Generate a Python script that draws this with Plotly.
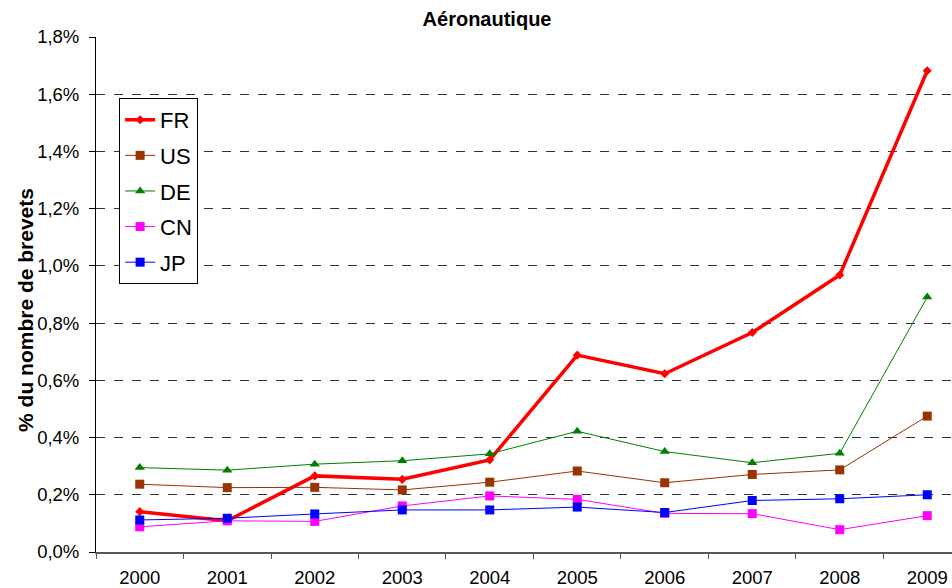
import plotly.graph_objects as go


# =========================================
# DATA
# =========================================
YEARS = ["2000", "2001", "2002", "2003", "2004", "2005", "2006", "2007", "2008", "2009"]

FR = [0.141, 0.109, 0.266, 0.254, 0.322, 0.688, 0.623, 0.767, 0.968, 1.682]
US = [0.237, 0.225, 0.226, 0.217, 0.244, 0.283, 0.242, 0.271, 0.287, 0.475]
DE = [0.295, 0.286, 0.307, 0.319, 0.343, 0.422, 0.351, 0.312, 0.345, 0.891]
CN = [0.088, 0.109, 0.107, 0.161, 0.196, 0.184, 0.135, 0.134, 0.078, 0.127]
JP = [0.112, 0.118, 0.133, 0.147, 0.147, 0.157, 0.138, 0.180, 0.186, 0.200]

FONT_FAMILY = "Liberation Sans, Arial, sans-serif"


# =========================================
# SERIES STYLE
# =========================================
series = [
    ("FR", FR, "#ff0000", 3.5, "diamond", 7),
    ("US", US, "#993300", 1, "square", 9),
    ("DE", DE, "#008000", 1, "triangle-up", 9),
    ("CN", CN, "#ff00ff", 1, "square", 9),
    ("JP", JP, "#0000ff", 1, "square", 9),
]

fig = go.Figure()

for name, values, color, width, symbol, size in series:
    fig.add_trace(go.Scatter(
        x=YEARS,
        y=values,
        name=name,
        legendgroup=name,
        mode="lines+markers",
        line=dict(color=color, width=width),
        marker=dict(color=color, symbol=symbol, size=size),
    ))


# =========================================
# LAYOUT
# =========================================
fig.update_layout(
    width=952,
    height=588,
    paper_bgcolor="white",
    plot_bgcolor="white",
    font=dict(family=FONT_FAMILY, color="black", size=18.5),
    separators=", ",
    title=dict(
        text="<b>Aéronautique</b>",
        x=0.5116,
        xanchor="center",
        y=0.968,
        yanchor="middle",
        font=dict(size=20),
    ),
    margin=dict(l=96, r=0, t=37, b=36),
    legend=dict(
        x=0.027,
        y=0.8816,
        xanchor="left",
        yanchor="top",
        bgcolor="white",
        bordercolor="black",
        borderwidth=1,
        font=dict(size=22),
        tracegroupgap=4,
    ),
)

# y axis title placed by hand (sits a bit below the plot centre in the original)
fig.add_annotation(
    text="<b>% du nombre de brevets</b>",
    xref="paper",
    yref="paper",
    x=-0.0818,
    y=0.47,
    xanchor="center",
    yanchor="middle",
    textangle=-90,
    showarrow=False,
    font=dict(size=21),
)

fig.update_xaxes(
    type="category",
    range=[-0.5, 9.283],
    automargin=False,
    showgrid=False,
    showline=True,
    linecolor="#555555",
    linewidth=1.5,
    ticks="outside",
    tickson="boundaries",
    ticklen=5,
    tickcolor="#555555",
    ticklabelstandoff=8,
    tickfont=dict(size=18.5),
)

fig.update_yaxes(
    range=[0, 1.8],
    dtick=0.2,
    tickformat=".1f",
    ticksuffix="%",
    automargin=False,
    showgrid=True,
    gridcolor="#333333",
    griddash="dash",
    gridwidth=1,
    zeroline=False,
    showline=True,
    linecolor="black",
    linewidth=1,
    ticks="outside",
    ticklen=6,
    tickcolor="black",
    ticklabelstandoff=6,
    tickfont=dict(size=18.5),
)

# drop the default page margin so the figure sits at the window's top-left corner
fig.write_html(
    "out.html",
    config={"displayModeBar": False},
    post_script="document.body.style.margin='0';",
)
